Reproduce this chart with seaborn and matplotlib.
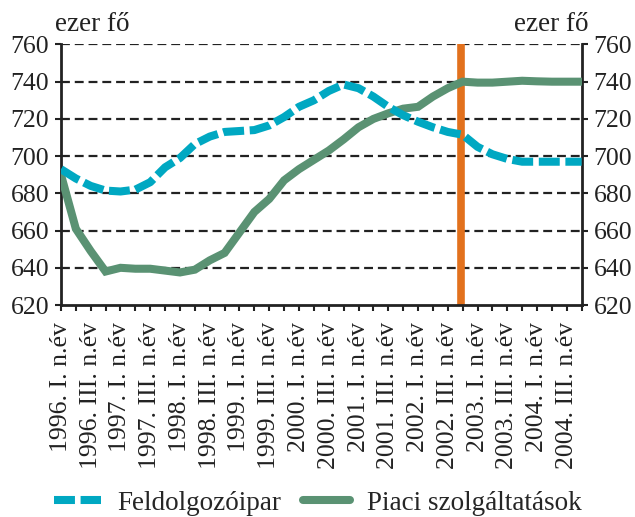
import matplotlib
matplotlib.use("Agg")
import matplotlib.pyplot as plt
from matplotlib.lines import Line2D
import seaborn as sns
import pandas as pd

# negyedéves adatok, 1996 I. - 2004 IV. (ezer fő)
quarters = [f"{y}. {q}. n.év" for y in range(1996, 2005) for q in ["I", "II", "III", "IV"]]
feldolgozo = [693, 688, 684, 681.5, 681, 682, 686, 694, 699, 706.5, 710.5, 713, 713.5, 714,
              716.5, 721, 726.5, 730, 735, 738.5, 736.5, 732, 726.5, 722, 718.5, 715.5, 713, 711.5,
              705, 701, 698.5, 697, 697, 697, 697, 697]
piaci = [690, 661, 649, 638, 640, 639.5, 639.5, 638.5, 637.5, 639, 644, 648, 659, 670,
         677, 687, 693, 698, 703, 709, 715.5, 720, 723, 725.5, 726.5, 732, 736.5, 740,
         739.5, 739.5, 740, 740.5, 740.2, 740, 740, 740]
break_quarter = 26.9  # 2002 IV. körül

blue = "#00a8c2"
green = "#5a9273"
orange = "#e2711d"
ink = "#222222"

df = pd.DataFrame({"t": range(len(quarters)), "Feldolgozóipar": feldolgozo,
                   "Piaci szolgáltatások": piaci})

sns.set_style("white")
plt.rcParams["font.family"] = ["Liberation Serif", "DejaVu Serif"]

fig = plt.figure(figsize=(6.35, 5.17), dpi=100)
ax = fig.add_axes([0.096, 0.41, 0.82, 0.504])

for y in range(640, 761, 20):
    ax.axhline(y, color=ink, lw=1.6, ls=(0, (4, 2.2)), zorder=1)

ax.plot([break_quarter, break_quarter], [620, 760], color=orange, lw=5.5,
        solid_capstyle="butt", zorder=2)

sns.lineplot(data=df, x="t", y="Piaci szolgáltatások", ax=ax, color=green, lw=5.8,
             solid_joinstyle="miter", zorder=3)
sns.lineplot(data=df, x="t", y="Feldolgozóipar", ax=ax, color=blue, lw=5.8,
             ls=(0, (2.6, 0.7)), dash_capstyle="butt", zorder=4)

ax.set_xlim(0, len(quarters) - 1)
ax.set_ylim(620, 760)
ax.set_yticks(range(620, 761, 20))
ax.set_xticks(range(len(quarters)))
ax.set_xticklabels([q if i % 2 == 0 else "" for i, q in enumerate(quarters)],
                   rotation=90, fontsize=18.5)
ax.set_xlabel("")
ax.set_ylabel("")
ax.tick_params(axis="y", labelsize=18.5, left=True, right=True, labelright=True,
               length=4, width=1.5, color=ink, pad=4.5, labelcolor=ink)
ax.tick_params(axis="x", bottom=True, length=4, width=1.5, color=ink, pad=8,
               labelcolor=ink)
for side in ["left", "right", "bottom"]:
    ax.spines[side].set_color(ink)
    ax.spines[side].set_linewidth(2)
ax.spines["top"].set_visible(False)

fig.text(0.087, 0.94, "ezer fő", fontsize=19.5, color=ink, va="baseline")
fig.text(0.927, 0.94, "ezer fő", fontsize=19.5, color=ink, ha="right", va="baseline")

handles = [Line2D([], [], color=blue, lw=5.8, ls=(0, (2.6, 0.7)), dash_capstyle="butt"),
           Line2D([], [], color=green, lw=5.8)]
fig.legend(handles, ["Feldolgozóipar", "Piaci szolgáltatások"], loc="center",
           bbox_to_anchor=(0.5, 0.027), ncol=2, frameon=False, fontsize=19.5,
           handlelength=1.75, columnspacing=0.8, handletextpad=0.6, borderpad=0)

fig.savefig("out.png", dpi=100)
